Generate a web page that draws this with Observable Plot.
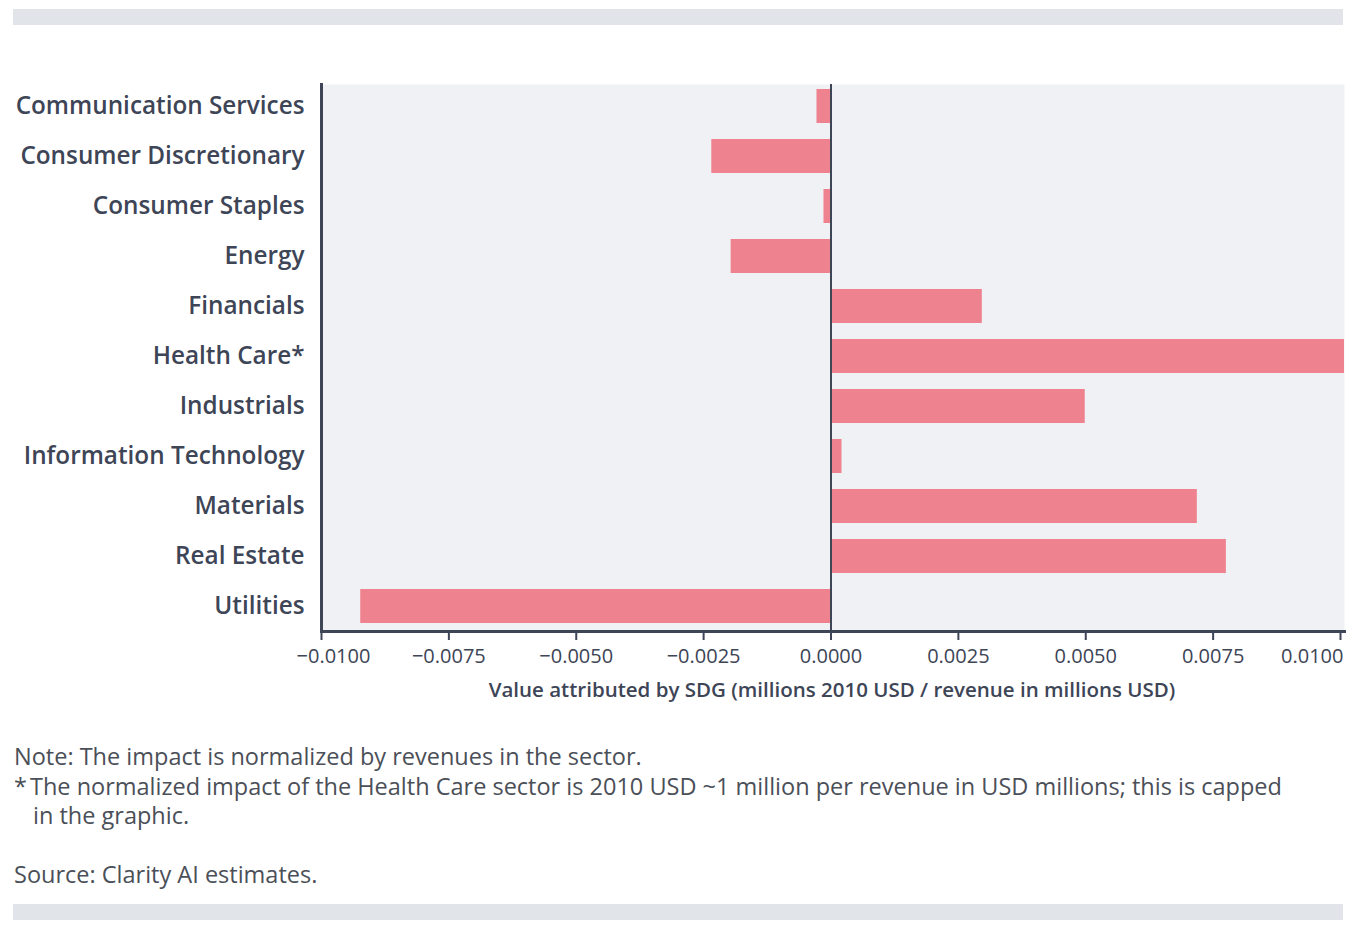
<!DOCTYPE html>
<html>
<head>
<meta charset="utf-8">
<script src="https://cdn.jsdelivr.net/npm/d3@7"></script>
<script src="https://cdn.jsdelivr.net/npm/@observablehq/plot@0.6"></script>
<style>
  body { margin: 0; background: #fff; font-family: "Open Sans", sans-serif; }
  #wrap { position: relative; width: 1362px; height: 930px; }
  .band { position: absolute; left: 13px; width: 1330px; height: 16px; background: #e1e4e9; }
  #chart { position: absolute; left: 0; top: 0; }
  #notes { position: absolute; left: 14px; top: 742px; font-size: 23.5px; color: #4b4f58; line-height: 29.5px; white-space: nowrap; }
  #notes .star { display: flex; }
  #notes .star span.s { width: 16px; flex: none; }
</style>
</head>
<body>
<div id="wrap">
  <div class="band" style="top:9px"></div>
  <div id="chart"></div>
  <div id="notes">
    <div>Note: The impact is normalized by revenues in the sector.</div>
    <div class="star"><span class="s">*</span><span>The normalized impact of the Health Care sector is 2010 USD ~1 million per revenue in USD millions; this is capped</span></div>
    <div style="padding-left:19px">in the graphic.</div>
    <div style="margin-top:29.5px">Source: Clarity AI estimates.</div>
  </div>
  <div class="band" style="top:904px"></div>
</div>
<script>
const sectors = ["Communication Services", "Consumer Discretionary", "Consumer Staples", "Energy", "Financials", "Health Care*", "Industrials", "Information Technology", "Materials", "Real Estate", "Utilities"];
const values = [-0.000275, -0.00234, -0.000138, -0.00196, 0.00297, 0.0101, 0.00499, 0.000216, 0.00719, 0.00776, -0.00923];
const xTicks = [-0.01, -0.0075, -0.005, -0.0025, 0, 0.0025, 0.005, 0.0075, 0.01];
const xLabel = "Value attributed by SDG (millions 2010 USD / revenue in millions USD)";

const data = sectors.map((s, i) => ({sector: s, value: values[i]}));
const ink = "#3d4556";
const fmt = d3.format(".4f");
const labelOpts = {fontSize: 20, fill: ink, label: null, tickFormat: fmt, tickSize: 0, tickPadding: 17};

const chart = Plot.plot({
  width: 1362,
  height: 712,
  marginLeft: 321,
  marginRight: 18,
  marginTop: 84,
  marginBottom: 81,
  style: {fontFamily: "Open Sans, sans-serif", background: "transparent"},
  x: {domain: [-0.01, 0.01], range: [321, 1340]},
  y: {domain: sectors, range: [84, 628], paddingInner: 0.32, paddingOuter: 0.1},
  marks: [
    Plot.frame({fill: "#eff1f5"}),
    Plot.barX(data, {x: "value", y: "sector", fill: "#ee838f", clip: true}),
    Plot.ruleX([0], {stroke: ink, strokeWidth: 2}),
    Plot.frame({anchor: "left", stroke: ink, strokeWidth: 3}),
    Plot.frame({anchor: "bottom", stroke: ink, strokeWidth: 3}),
    Plot.axisY({tickSize: 0, tickPadding: 17, fontSize: 24.3, fontWeight: 600, fill: ink, label: null}),
    Plot.axisX(xTicks, {tickSize: 9, stroke: ink, strokeWidth: 2, tickFormat: () => "", label: null}),
    Plot.axisX(xTicks.slice(1, -1), labelOpts),
    Plot.axisX([-0.01], {...labelOpts, dx: 12}),
    Plot.axisX([0.01], {...labelOpts, textAnchor: "end", dx: 3}),
    Plot.text([xLabel], {frameAnchor: "bottom", lineAnchor: "middle", dy: 59, dx: -1, fontSize: 20.5, fontWeight: 600, fill: ink})
  ]
});
document.getElementById("chart").appendChild(chart);
</script>
</body>
</html>
